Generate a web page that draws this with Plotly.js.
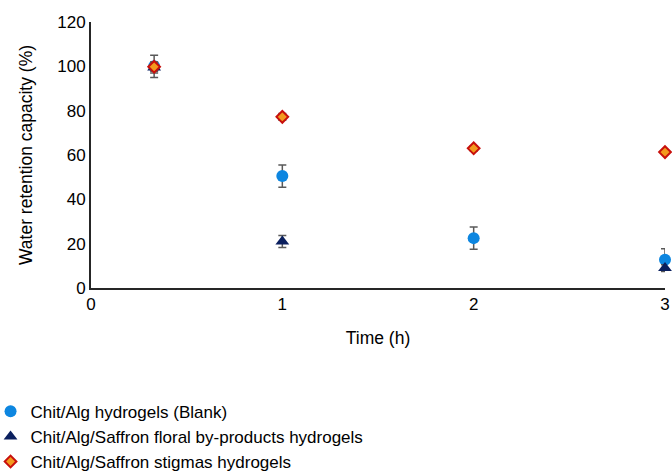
<!DOCTYPE html>
<html>
<head>
<meta charset="utf-8">
<script src="https://cdn.plot.ly/plotly-3.0.1.min.js"></script>
<style>html,body{margin:0;padding:0;background:#fff;}#chart{width:672px;height:471px;}</style>
</head>
<body>
<div id="chart"></div>
<script>
const time = [0.33, 1, 2, 3];
const blank = [100, 50.5, 22.5, 12.7];
const blankErr = [5, 5, 5, 5];
const floral = [99.5, 21, null, 9];
const floralErr = [2.5, 2.7, 0, 1.5];
const stigma = [99.8, 77.2, 63, 61.3];
const stigmaErr = [2, 1.5, 1.2, 1];
const names = ["Chit/Alg hydrogels (Blank)", "Chit/Alg/Saffron floral by-products hydrogels", "Chit/Alg/Saffron stigmas hydrogels"];

const errStyle = (arr) => ({type: 'data', array: arr, visible: true, color: '#595959', thickness: 1.5, width: 4});

const traces = [
  {x: time, y: blank, name: names[0], type: 'scatter', mode: 'markers', cliponaxis: false,
   marker: {symbol: 'circle', size: 12, color: '#0d86e0'}, error_y: errStyle(blankErr)},
  {x: time, y: floral, name: names[1], type: 'scatter', mode: 'markers', cliponaxis: false,
   marker: {symbol: 'triangle-up', size: 12, color: '#0a1f5e'}, error_y: errStyle(floralErr)},
  {x: time, y: stigma, name: names[2], type: 'scatter', mode: 'markers', cliponaxis: false,
   marker: {symbol: 'diamond', size: 9, color: '#f39a1e', line: {color: '#c8100c', width: 2}}, error_y: errStyle(stigmaErr)}
];

const layout = {
  width: 672, height: 471,
  margin: {l: 91, r: 7, t: 22, b: 183, autoexpand: false},
  paper_bgcolor: '#fff', plot_bgcolor: '#fff',
  font: {family: 'Liberation Sans, Arial, sans-serif', size: 17, color: '#000'},
  showlegend: true,
  legend: {x: -0.175, xanchor: 'left', y: -0.3975, yanchor: 'top', orientation: 'v',
           font: {size: 17, color: '#000'}, itemwidth: 30, bgcolor: 'rgba(0,0,0,0)'},
  xaxis: {range: [0, 3], dtick: 1, tick0: 0, showgrid: false, zeroline: false, automargin: false,
          showline: true, linecolor: '#262626', linewidth: 2, ticks: '', ticklen: 0,
          title: {text: 'Time (h)', font: {size: 17.5}, standoff: 18}},
  yaxis: {range: [0, 120], dtick: 20, showgrid: false, zeroline: false, automargin: false,
          showline: true, linecolor: '#262626', linewidth: 2, ticks: '',
          title: {text: 'Water retention capacity (%)', font: {size: 17.5}, standoff: 20}}
};

Plotly.newPlot('chart', traces, layout, {displayModeBar: false, staticPlot: true});
</script>
</body>
</html>
